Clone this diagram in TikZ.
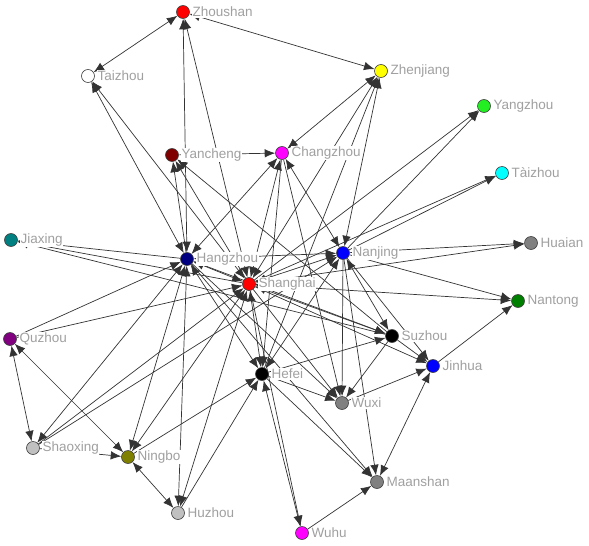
\documentclass[tikz,border=0pt]{standalone}
\usepackage{fontspec}
\setmainfont{Liberation Sans}
\usepackage{tikz}
\usetikzlibrary{arrows.meta,backgrounds}
\definecolor{NetLine}{HTML}{333333}
\definecolor{NetText}{HTML}{A0A0A0}
\definecolor{NetRed}{HTML}{FF0000}
\definecolor{NetYellow}{HTML}{FFFF00}
\definecolor{NetMagenta}{HTML}{FF00FF}
\definecolor{NetCyan}{HTML}{00FFFF}
\definecolor{NetBlue}{HTML}{0000FF}
\definecolor{NetOlive}{HTML}{808000}
\definecolor{NetTeal}{HTML}{008080}
\definecolor{NetNavy}{HTML}{000080}
\definecolor{NetMaroon}{HTML}{800000}
\definecolor{NetPurple}{HTML}{800080}
\definecolor{NetGreen}{HTML}{008000}
\definecolor{NetLime}{HTML}{22EE22}
\definecolor{NetSilver}{HTML}{C0C0C0}
\definecolor{NetGray}{HTML}{808080}

\begin{document}
\begin{tikzpicture}[
    x=1pt,y=-1pt,
    city/.style={circle,draw=black!75,line width=0.6pt,minimum size=13pt,inner sep=0pt,
      label={[lbl]right:#1}},
    lbl/.style={text=NetText,fill=white,inner sep=0.6pt,label distance=2pt,
      font=\fontsize{13.5}{15}\selectfont},
    link/.style={-{Latex[length=10.5pt,width=8.5pt]},line width=0.7pt,draw=NetLine},
    twoway/.style={link,{Latex[length=10.5pt,width=8.5pt]}-{Latex[length=10.5pt,width=8.5pt]}}
  ]
    \useasboundingbox (0,0) rectangle (589,546);
    \node[city=Zhoushan,fill=NetRed] (zhoushan) at (183,12) {};
    \node[city=Taizhou,fill=white] (taizhou) at (88,76) {};
    \node[city=Zhenjiang,fill=NetYellow] (zhenjiang) at (381,71) {};
    \node[city=Yangzhou,fill=NetLime] (yangzhou) at (484,106) {};
    \node[city=Yancheng,fill=NetMaroon] (yancheng) at (172,155) {};
    \node[city=Changzhou,fill=NetMagenta] (changzhou) at (282,153) {};
    \node[city=Tàizhou,fill=NetCyan] (taizhoujs) at (502,173) {};
    \node[city=Jiaxing,fill=NetTeal] (jiaxing) at (11,240) {};
    \node[city=Hangzhou,fill=NetNavy] (hangzhou) at (187,259) {};
    \node[city=Nanjing,fill=NetBlue] (nanjing) at (343,253) {};
    \node[city=Huaian,fill=NetGray] (huaian) at (531,243) {};
    \node[city=Shanghai,fill=NetRed] (shanghai) at (249,284) {};
    \node[city=Nantong,fill=NetGreen] (nantong) at (518,301) {};
    \node[city=Quzhou,fill=NetPurple] (quzhou) at (10,339) {};
    \node[city=Suzhou,fill=black] (suzhou) at (392,336) {};
    \node[city=Jinhua,fill=NetBlue] (jinhua) at (433,366) {};
    \node[city=Hefei,fill=black] (hefei) at (262,374) {};
    \node[city=Wuxi,fill=NetGray] (wuxi) at (342,403) {};
    \node[city=Shaoxing,fill=NetSilver] (shaoxing) at (33,448) {};
    \node[city=Ningbo,fill=NetOlive] (ningbo) at (128,457) {};
    \node[city=Maanshan,fill=NetGray] (maanshan) at (377,482) {};
    \node[city=Huzhou,fill=NetSilver] (huzhou) at (178,513) {};
    \node[city=Wuhu,fill=NetMagenta] (wuhu) at (302,533) {};

    \begin{scope}[on background layer]
      % one-way links
      \foreach \a/\b in {yancheng/changzhou,changzhou/hefei,changzhou/wuxi,
          hefei/zhenjiang,shanghai/yangzhou,nanjing/yangzhou,shanghai/taizhoujs,
          nanjing/taizhoujs,nanjing/huaian,shanghai/huaian,nanjing/nantong,
          shanghai/nantong,jinhua/nantong,hangzhou/jiaxing,shanghai/jiaxing,
          suzhou/jiaxing,quzhou/hangzhou,quzhou/shanghai,shaoxing/shanghai,
          shaoxing/nanjing,shaoxing/ningbo,ningbo/hefei,huzhou/hefei,
          shanghai/wuhu,wuhu/maanshan,hefei/maanshan,nanjing/maanshan,
          hangzhou/maanshan,wuxi/jinhua,suzhou/jinhua,shanghai/jinhua,
          nanjing/jinhua,hefei/suzhou,suzhou/wuxi,nanjing/wuxi,hefei/wuxi,
          hangzhou/wuxi,shanghai/wuxi,hangzhou/yancheng,suzhou/yancheng,
          shanghai/yancheng}
        \draw[link] (\a) -- (\b);
      % two-way links
      \foreach \a/\b in {taizhou/zhoushan,zhoushan/zhenjiang,hangzhou/zhoushan,
          shanghai/zhoushan,hangzhou/taizhou,shanghai/taizhou,changzhou/zhenjiang,
          hangzhou/changzhou,shanghai/changzhou,changzhou/nanjing,
          shanghai/zhenjiang,nanjing/zhenjiang,quzhou/shaoxing,quzhou/ningbo,
          hangzhou/shaoxing,hangzhou/ningbo,shanghai/ningbo,ningbo/huzhou,
          hangzhou/huzhou,shanghai/huzhou,hefei/wuhu,jinhua/maanshan,
          hangzhou/suzhou,shanghai/suzhou,hangzhou/shanghai,nanjing/suzhou,
          hangzhou/hefei,shanghai/hefei,nanjing/hefei,hangzhou/nanjing,
          shanghai/nanjing}
        \draw[twoway] (\a) -- (\b);
    \end{scope}
  \end{tikzpicture}
\end{document}
